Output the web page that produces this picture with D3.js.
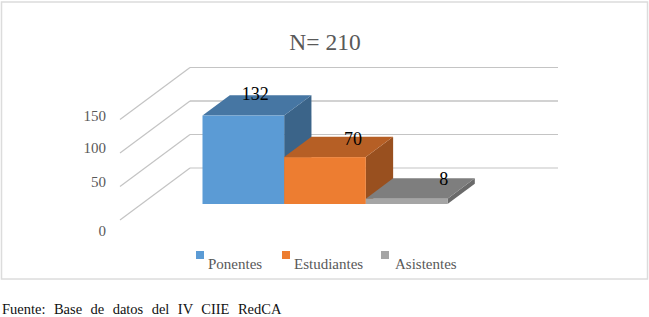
<!DOCTYPE html>
<html>
<head>
<meta charset="utf-8">
<script src="https://cdn.jsdelivr.net/npm/d3@7"></script>
<style>
  html, body { margin: 0; padding: 0; background: #fff; }
  text { font-family: "Liberation Serif", "Times New Roman", serif; }
</style>
</head>
<body>
<div id="viz-container"></div>
<script>
'use strict';

const title = 'N= 210';
const categories = ['Ponentes', 'Estudiantes', 'Asistentes'];
const values = [132, 70, 8];
const yTicks = [0, 50, 100, 150];
const faceColors = ['#5b9bd5', '#ed7d31', '#a5a5a5'];
const topColors = ['#4676a3', '#b65f25', '#7e7e7e'];
const sideColors = ['#3b6489', '#99501f', '#6a6a6a'];
const source = 'Fuente: Base de datos del IV CIIE RedCA';

const width = 649, height = 317;

const svg = d3.select('#viz-container')
    .append('svg')
    .attr('width', width)
    .attr('height', height)
    .style('display', 'block');

// Chart frame
svg.append('rect')
    .attr('x', 1.5).attr('y', 2)
    .attr('width', 646).attr('height', 277)
    .attr('fill', '#fff')
    .attr('stroke', '#dcdcdc')
    .attr('stroke-width', 1.5);

svg.append('text')
    .attr('x', 325).attr('y', 50)
    .attr('text-anchor', 'middle')
    .attr('font-size', 23.5)
    .attr('fill', '#595959')
    .text(title);

// Height of a value above the floor, and the walk from front to back of the floor
const y = d3.scaleLinear().domain([0, 150]).range([0, 100.5]);
const depthX = d3.scaleLinear().domain([0, 1]).range([0, 70]);
const depthY = d3.scaleLinear().domain([0, 1]).range([0, 52]);

// Front left corner of the floor
const originX = 120, originY = 220;
const backRight = 558;

const grid = svg.append('g')
    .attr('fill', 'none')
    .attr('stroke-width', 1.2);

// Side wall lines
grid.selectAll('line.wall')
    .data(yTicks)
    .enter()
    .append('line')
    .attr('class', 'wall')
    .attr('stroke', '#c4c4c4')
    .attr('x1', originX)
    .attr('y1', d => originY - y(d))
    .attr('x2', originX + depthX(1))
    .attr('y2', d => originY - y(d) - depthY(1));

// Back wall lines
grid.selectAll('line.back')
    .data(yTicks)
    .enter()
    .append('line')
    .attr('class', 'back')
    .attr('stroke', d => d === 100 ? '#a6a6a6' : '#c4c4c4')
    .attr('x1', originX + depthX(1))
    .attr('y1', d => originY - y(d) - depthY(1))
    .attr('x2', backRight)
    .attr('y2', d => originY - y(d) - depthY(1));

// Tick labels sit a little off the axis in the source, 0 furthest
const labelOffset = { 0: 16, 50: 0, 100: 0, 150: 1 };
svg.append('g').selectAll('text')
    .data(yTicks)
    .enter()
    .append('text')
    .attr('x', 106)
    .attr('y', d => originY - y(d) + labelOffset[d])
    .attr('text-anchor', 'end')
    .attr('font-size', 15)
    .attr('fill', '#595959')
    .text(d => d);

// Bars
const x = d3.scaleBand().domain(categories).range([202.5, 447.5]);
const floorY = 204;
const barDepthX = depthX(0.39), barDepthY = depthY(0.39);

const bars = svg.append('g').selectAll('g')
    .data(categories)
    .enter()
    .append('g');

bars.append('polygon') // side
    .attr('fill', (d, i) => sideColors[i])
    .attr('points', (d, i) => {
        const r = x(d) + x.bandwidth();
        const t = floorY - y(values[i]);
        return [[r, floorY], [r + barDepthX, floorY - barDepthY], [r + barDepthX, t - barDepthY], [r, t]].join(' ');
    });

bars.append('polygon') // top
    .attr('fill', (d, i) => topColors[i])
    .attr('points', (d, i) => {
        const l = x(d), r = l + x.bandwidth();
        const t = floorY - y(values[i]);
        return [[l, t], [r, t], [r + barDepthX, t - barDepthY], [l + barDepthX, t - barDepthY]].join(' ');
    });

bars.append('rect') // front
    .attr('x', d => x(d))
    .attr('y', (d, i) => floorY - y(values[i]))
    .attr('width', x.bandwidth())
    .attr('height', (d, i) => y(values[i]))
    .attr('fill', (d, i) => faceColors[i]);

// Data labels were dragged by hand in the source, so each has its own nudge
const valueLabelDx = [12, 28, 37];
const valueLabelDy = [-15.5, -12, -14];
bars.append('text')
    .attr('x', (d, i) => x(d) + x.bandwidth() / 2 + valueLabelDx[i])
    .attr('y', (d, i) => floorY - y(values[i]) + valueLabelDy[i])
    .attr('text-anchor', 'middle')
    .attr('font-size', 18)
    .attr('fill', '#000')
    .text((d, i) => values[i]);

// Legend
const legendX = d3.scaleOrdinal().domain(categories).range([196, 282, 381]);
const legendTextX = d3.scaleOrdinal().domain(categories).range([208, 294, 395]);

const legend = svg.append('g');

legend.selectAll('rect')
    .data(categories)
    .enter()
    .append('rect')
    .attr('x', d => legendX(d))
    .attr('y', 251)
    .attr('width', 8).attr('height', 8)
    .attr('fill', (d, i) => faceColors[i]);

legend.selectAll('text')
    .data(categories)
    .enter()
    .append('text')
    .attr('x', d => legendTextX(d))
    .attr('y', 268.5)
    .attr('font-size', 15)
    .attr('fill', '#595959')
    .text(d => d);

svg.append('text')
    .attr('x', 2).attr('y', 314)
    .attr('font-size', 14.5)
    .attr('word-spacing', 4.8)
    .attr('fill', '#111')
    .text(source);
</script>
</body>
</html>
